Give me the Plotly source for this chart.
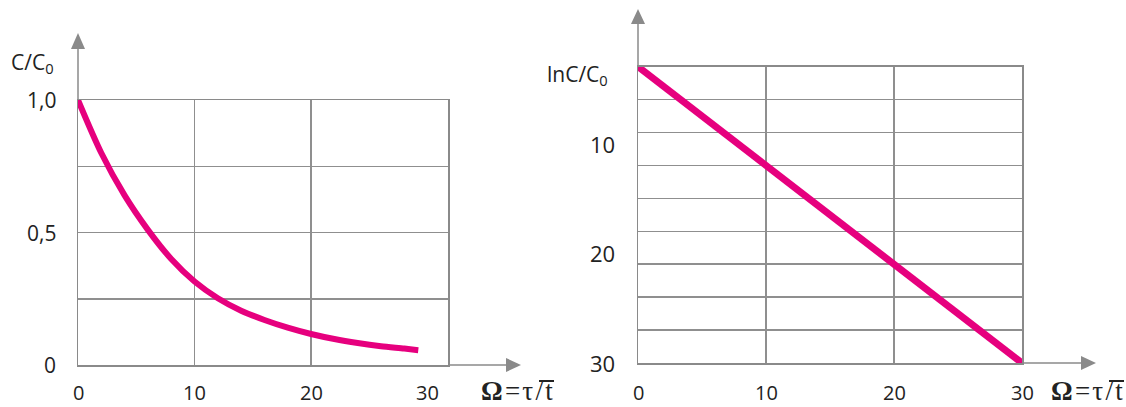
import plotly.graph_objects as go

# ---------------- data ----------------
# Left chart: C/C0 versus Omega
left_x = [0, 2, 4, 6, 8, 10, 12, 14, 16, 18, 20, 22, 24, 26, 28, 29.2]
left_y = [1.0, 0.80, 0.64, 0.51, 0.40, 0.315, 0.252, 0.205, 0.17, 0.141, 0.117, 0.098, 0.083, 0.071, 0.062, 0.056]
left_x_ticks = [0, 10, 20, 30]
left_x_ticktext = ["0", "10", "20", "30"]
left_y_ticks = [0, 0.5, 1.0]
left_y_ticktext = ["0", "0,5", "1,0"]
left_x_grid = [10, 20]
left_y_grid = [0.25, 0.5, 0.75]

# Right chart: lnC/C0 versus Omega (straight line)
right_x = [0, 30]
right_y = [3, 30]
right_x_ticks = [0, 10, 20, 30]
right_x_ticktext = ["0", "10", "20", "30"]
right_y_ticks = [10, 20, 30]
right_y_ticktext = ["10", "20", "30"]
right_x_grid = [10, 20]
right_y_grid = [6, 9, 12, 15, 18, 21, 24, 27]

# ---------------- style ----------------
W, H = 1126, 407
MAGENTA = "#E6007E"
GRID = "#8f8f8f"
AXIS = "#8a8a8a"
TXT = "#222222"
SANS = "Open Sans, sans-serif"
SERIF = "Liberation Serif, serif"


def px(x):
    return x / W


def py(y):
    return 1 - y / H


fig = go.Figure()
fig.add_trace(go.Scatter(x=left_x, y=left_y, mode="lines", xaxis="x", yaxis="y",
                         line=dict(color=MAGENTA, width=6, shape="spline", smoothing=0.8),
                         hoverinfo="skip", showlegend=False))
fig.add_trace(go.Scatter(x=right_x, y=right_y, mode="lines", xaxis="x2", yaxis="y2",
                         line=dict(color=MAGENTA, width=7),
                         hoverinfo="skip", showlegend=False))

common = dict(showline=True, mirror=True, linecolor=AXIS, linewidth=1.5,
              showgrid=True, gridcolor=GRID, gridwidth=1.5, zeroline=False,
              showticklabels=False, ticks="", fixedrange=True)

fig.update_layout(
    width=W, height=H, margin=dict(l=0, r=0, t=0, b=0),
    paper_bgcolor="white", plot_bgcolor="white", showlegend=False,
    xaxis=dict(domain=[px(78), px(448)], range=[0, 31.75], anchor="y",
               tickvals=left_x_grid, **common),
    yaxis=dict(domain=[py(365), py(100)], range=[0, 1.0], anchor="x",
               tickvals=left_y_grid, **common),
    xaxis2=dict(domain=[px(638), px(1022)], range=[0, 30], anchor="y2",
                tickvals=right_x_grid, **common),
    yaxis2=dict(domain=[py(363), py(66.7)], range=[30, 3], anchor="x2",
                tickvals=right_y_grid, **common),
)

ann = []
# tick labels (placed through the axes' scales)
for v, t in zip(left_x_ticks, left_x_ticktext):
    ann.append(dict(x=v, xref="x", y=py(392), yref="paper", text=t, showarrow=False, borderpad=0,
                    font=dict(family=SANS, size=20, color=TXT), xanchor="center", yanchor="middle"))
for v, t in zip(left_y_ticks, left_y_ticktext):
    ann.append(dict(x=px(58), xref="paper", y=v, yref="y", text=t, showarrow=False,
                    font=dict(family=SANS, size=21, color=TXT), xanchor="right", yanchor="middle"))
for v, t in zip(right_x_ticks, right_x_ticktext):
    ann.append(dict(x=v, xref="x2", y=py(392), yref="paper", text=t, showarrow=False, borderpad=0,
                    font=dict(family=SANS, size=20, color=TXT), xanchor="center", yanchor="middle"))
for v, t in zip(right_y_ticks, right_y_ticktext):
    ann.append(dict(x=px(617), xref="paper", y=v, yref="y2", text=t, showarrow=False,
                    font=dict(family=SANS, size=22, color=TXT), xanchor="right", yanchor="middle"))

# axis titles
ann.append(dict(x=px(9), y=py(63), xref="paper", yref="paper", xanchor="left", yanchor="middle",
                text="C/C<sub>0</sub>", showarrow=False, font=dict(family=SANS, size=21, color=TXT)))
ann.append(dict(x=px(545), y=py(75), xref="paper", yref="paper", xanchor="left", yanchor="middle",
                text="lnC/C<sub>0</sub>", showarrow=False, font=dict(family=SANS, size=21, color=TXT)))
omega = "<b>Ω</b>\u200a=\u200aτ\u200a/\u200at"
ann.append(dict(x=px(554), y=py(391), xref="paper", yref="paper", xanchor="right", yanchor="middle",
                text=omega, showarrow=False, borderpad=0, font=dict(family=SERIF, size=27, color=TXT)))
ann.append(dict(x=px(1124), y=py(391), xref="paper", yref="paper", xanchor="right", yanchor="middle",
                text=omega, showarrow=False, borderpad=0, font=dict(family=SERIF, size=27, color=TXT)))
fig.update_layout(annotations=ann)

# axis extensions with arrow heads and the mean-time overbar (paper coordinates)
shapes = []


def vline(x, y0, y1):
    shapes.append(dict(type="line", xref="paper", yref="paper", x0=px(x), x1=px(x), y0=py(y0), y1=py(y1),
                       line=dict(color=AXIS, width=1.5)))


def hline(y, x0, x1, color=AXIS, width=1.5):
    shapes.append(dict(type="line", xref="paper", yref="paper", x0=px(x0), x1=px(x1), y0=py(y), y1=py(y),
                       line=dict(color=color, width=width)))


def up_arrow(x, tip, base, half=7):
    path = f"M {px(x - half)},{py(base)} L {px(x)},{py(tip)} L {px(x + half)},{py(base)} Z"
    shapes.append(dict(type="path", xref="paper", yref="paper", path=path,
                       fillcolor=AXIS, line=dict(width=0)))


def right_arrow(y, base, tip, half=7):
    path = f"M {px(base)},{py(y - half)} L {px(tip)},{py(y)} L {px(base)},{py(y + half)} Z"
    shapes.append(dict(type="path", xref="paper", yref="paper", path=path,
                       fillcolor=AXIS, line=dict(width=0)))


vline(78, 100, 49)
up_arrow(78, 33, 49)
hline(365, 448, 506)
right_arrow(365, 506, 521)
vline(638, 66.7, 24)
up_arrow(638, 9, 24)
hline(363, 1022, 1081)
right_arrow(363, 1081, 1096)
# overbar of t in the axis titles
hline(381, 539, 554, color=TXT, width=2)
hline(381, 1109, 1124, color=TXT, width=2)
fig.update_layout(shapes=shapes)

fig.write_html("out.html", config={"displayModeBar": False, "staticPlot": True},
               post_script="document.body.style.margin='0';document.body.style.overflow='hidden';")
